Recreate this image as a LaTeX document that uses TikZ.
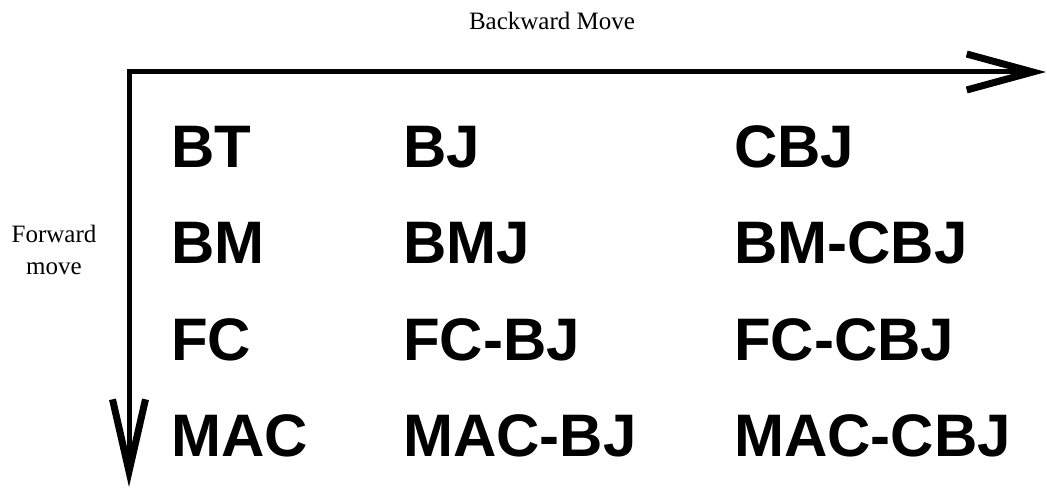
\documentclass[tikz,border=0pt]{standalone}
\usepackage{fontspec}
\setmainfont{Liberation Serif}
\newfontfamily\bigsans{Liberation Sans}
\usetikzlibrary{arrows.meta}
\tikzset{
  axis/.style={line width=5pt, line join=miter},
  algo/.style={anchor=base west, inner sep=0pt,
    font=\bigsans\bfseries\fontsize{60}{60}\selectfont},
  caption/.style={inner sep=0pt, align=center,
    font=\fontsize{25}{32}\selectfont},
}
\begin{document}
\begin{tikzpicture}[x=1pt, y=-1pt]
  \useasboundingbox (0,0) rectangle (1047,489);

  % axes
  \coordinate (corner) at (129,72);
  \coordinate (xend) at (1046,72);
  \coordinate (yend) at (129,487);
  \draw[axis,
    {Straight Barb[length=66pt,width=36pt,line width=0pt 1.4]}-{Straight Barb[length=72pt,width=33pt,line width=0pt 1.4]}]
    (xend) -- (corner) -- (yend);

  % axis captions
  \node[caption, anchor=base] (back) at (552,30) {Backward Move};
  \node[caption] (fwd) at (54,250) {Forward\\move};

  % algorithm grid
  \node[algo] (bt)     at (171,168) {BT};
  \node[algo] (bj)     at (403,168) {BJ};
  \node[algo] (cbj)    at (734,168) {CBJ};
  \node[algo] (bm)     at (171,264) {BM};
  \node[algo] (bmj)    at (403,264) {BMJ};
  \node[algo] (bmcbj)  at (734,264) {BM-CBJ};
  \node[algo] (fc)     at (171,360) {FC};
  \node[algo] (fcbj)   at (403,360) {FC-BJ};
  \node[algo] (fccbj)  at (734,360) {FC-CBJ};
  \node[algo] (mac)    at (171,456) {MAC};
  \node[algo] (macbj)  at (403,456) {MAC-BJ};
  \node[algo] (maccbj) at (734,456) {MAC-CBJ};
\end{tikzpicture}
\end{document}
